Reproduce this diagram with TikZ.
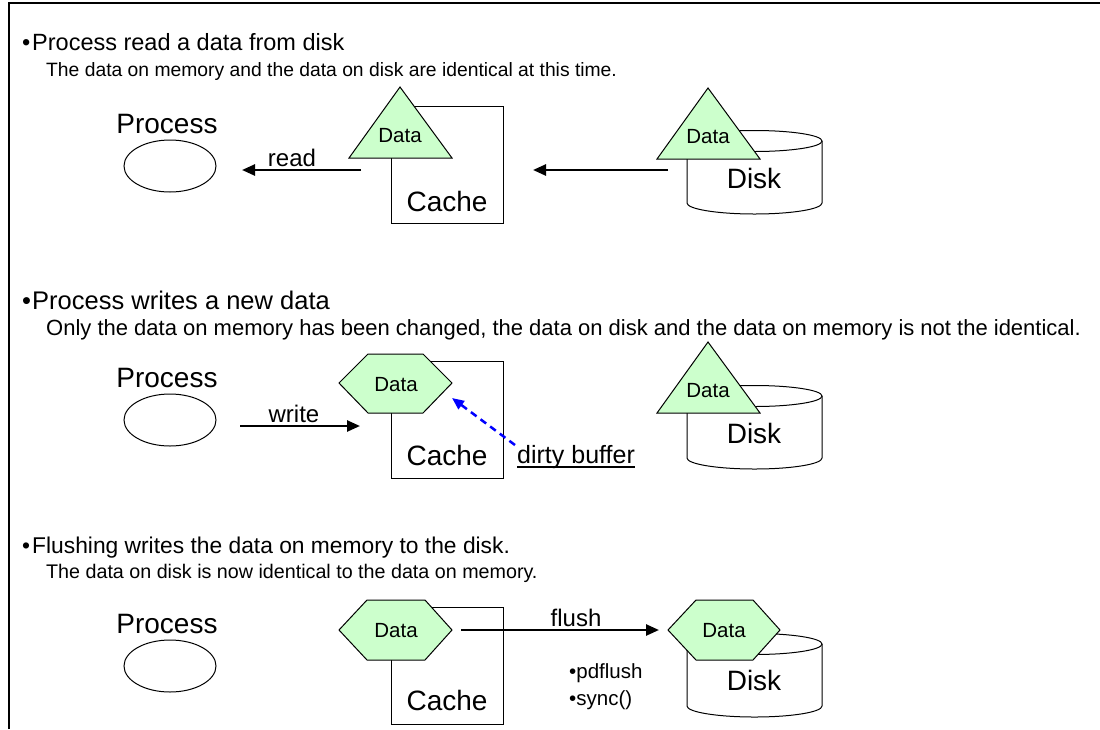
\documentclass[tikz,border=0pt]{standalone}
\usepackage{fontspec}
\setmainfont{Liberation Sans}
\usetikzlibrary{arrows.meta,shapes.geometric}
\definecolor{datagreen}{HTML}{CCFFCC}
\begin{document}
\begin{tikzpicture}[x=1pt,y=-1pt,
  hdr/.style={inner sep=0pt, anchor=base west, font=\fontsize{23.5}{28}\selectfont},
  sub/.style={inner sep=0pt, anchor=base west, font=\fontsize{19.3}{23}\selectfont},
  big/.style={inner sep=0pt, anchor=base, font=\fontsize{28}{32}\selectfont},
  lbl/.style={inner sep=0pt, anchor=base, font=\fontsize{24}{28}\selectfont},
  small/.style={inner sep=0pt, anchor=base, font=\fontsize{20.5}{24}\selectfont},
  smallw/.style={inner sep=0pt, anchor=base west, font=\fontsize{20.5}{24}\selectfont},
  thin/.style={draw=black, line width=1pt},
  datafill/.style={thin, fill=datagreen},
  proc/.style={thin, ellipse, minimum width=92pt, minimum height=52pt, inner sep=0pt},
  cachebox/.style={thin, rectangle, minimum width=112pt, minimum height=117pt, inner sep=0pt},
  arr/.style={line width=2.5pt, -{Triangle[length=13pt,width=11pt]}},
  dirtyarr/.style={draw=blue, line width=2.5pt, dash pattern=on 7pt off 5pt, -{Triangle[length=12pt,width=10pt]}}
]
\useasboundingbox (0,0) rectangle (1100,729);
% frame
\draw[line width=1.5pt] (9,729) -- (9,3) -- (1100,3);

% ================= Section 1 =================
\node[hdr] (b1) at (22,50) {•};
\node[hdr] (h1) at (32,50) {Process read a data from disk};
\node[sub] (s1) at (46,76) {The data on memory and the data on disk are identical at this time.};
\node[big] (pl1) at (167,133) {Process};
\node[proc] (pe1) at (170,166) {};
\node[cachebox] (cb1) at (447,164.5) {};
\node[big] (ct1) at (447,211) {Cache};
% disk 1
\draw[thin] (754.5,141) ellipse [x radius=67.5, y radius=10.5];
\draw[thin] (687,141) -- (687,203) arc[start angle=180, end angle=0, x radius=67.5, y radius=11] -- (822,141);
\node[big] (dt1) at (754,188) {Disk};
% data triangles
\draw[datafill] (400,87) -- (452,158) -- (349,158) -- cycle;
\node[small] (d1a) at (400,142) {Data};
\draw[datafill] (708,88) -- (760,159) -- (657,159) -- cycle;
\node[small] (d1b) at (708,143) {Data};
% arrows
\coordinate (r1s) at (361,170);
\coordinate (r1e) at (242,170);
\draw[arr] (r1s) -- (r1e);
\node[lbl] (rl) at (292,166) {read};
\coordinate (r2s) at (668,170);
\coordinate (r2e) at (533,170);
\draw[arr] (r2s) -- (r2e);

% ================= Section 2 =================
\node[hdr, font=\fontsize{25.5}{29}\selectfont] (b2) at (22,309) {•};
\node[hdr, font=\fontsize{25.5}{29}\selectfont] (h2) at (32,309) {Process writes a new data};
\node[sub, font=\fontsize{22}{26}\selectfont] (s2) at (46,335) {Only the data on memory has been changed, the data on disk and the data on memory is not the identical.};
\node[big] (pl2) at (167,387) {Process};
\node[proc] (pe2) at (170,420) {};
\node[cachebox] (cb2) at (447,419.5) {};
\node[big] (ct2) at (447,465) {Cache};
\draw[datafill] (339,383) -- (368,354) -- (423,354) -- (452,383) -- (423,413) -- (368,413) -- cycle;
\node[small] (d2a) at (396,391) {Data};
% disk 2
\draw[thin] (754.5,396) ellipse [x radius=67.5, y radius=10.5];
\draw[thin] (687,396) -- (687,458) arc[start angle=180, end angle=0, x radius=67.5, y radius=11] -- (822,396);
\node[big] (dt2) at (754,443) {Disk};
\draw[datafill] (708,342) -- (760,413) -- (657,413) -- cycle;
\node[small] (d2b) at (708,397) {Data};
% write arrow
\coordinate (w1s) at (240,426);
\coordinate (w1e) at (360,426);
\draw[arr] (w1s) -- (w1e);
\node[lbl] (wl) at (294,422) {write};
% dirty buffer
\node[lbl, anchor=base west, font=\fontsize{25}{29}\selectfont] (db) at (517,463) {dirty buffer};
\draw[line width=1.5pt] ([yshift=-4pt]db.base west) -- ([yshift=-4pt]db.base east);
\coordinate (dbs) at (515,445);
\coordinate (dbe) at (452,398);
\draw[dirtyarr] (dbs) -- (dbe);

% ================= Section 3 =================
\node[hdr, font=\fontsize{22.8}{27}\selectfont] (b3) at (22,553) {•};
\node[hdr, font=\fontsize{22.8}{27}\selectfont] (h3) at (32,553) {Flushing writes the data on memory to the disk.};
\node[sub, font=\fontsize{19.7}{23}\selectfont] (s3) at (46,578) {The data on disk is now identical to the data on memory.};
\node[big] (pl3) at (167,633) {Process};
\node[proc] (pe3) at (170,666) {};
\node[cachebox] (cb3) at (447,665.5) {};
\node[big] (ct3) at (447,710) {Cache};
\draw[datafill] (339,630) -- (367,600) -- (425,600) -- (452,630) -- (425,660) -- (367,660) -- cycle;
\node[small] (d3a) at (396,637) {Data};
% disk 3
\draw[thin] (754.5,644) ellipse [x radius=67.5, y radius=10.5];
\draw[thin] (687,644) -- (687,706) arc[start angle=180, end angle=0, x radius=67.5, y radius=11] -- (822,644);
\node[big] (dt3) at (754,690) {Disk};
\draw[datafill] (668,630) -- (696,600) -- (753,600) -- (780,630) -- (753,660) -- (696,660) -- cycle;
\node[small] (d3b) at (724,637) {Data};
% flush arrow
\coordinate (f1s) at (461,630);
\coordinate (f1e) at (659,630);
\draw[arr] (f1s) -- (f1e);
\node[lbl] (fl) at (576,626) {flush};
\node[smallw] (pf) at (569,678) {•pdflush};
\node[smallw] (sy) at (569,705) {•sync()};
\end{tikzpicture}
\end{document}
